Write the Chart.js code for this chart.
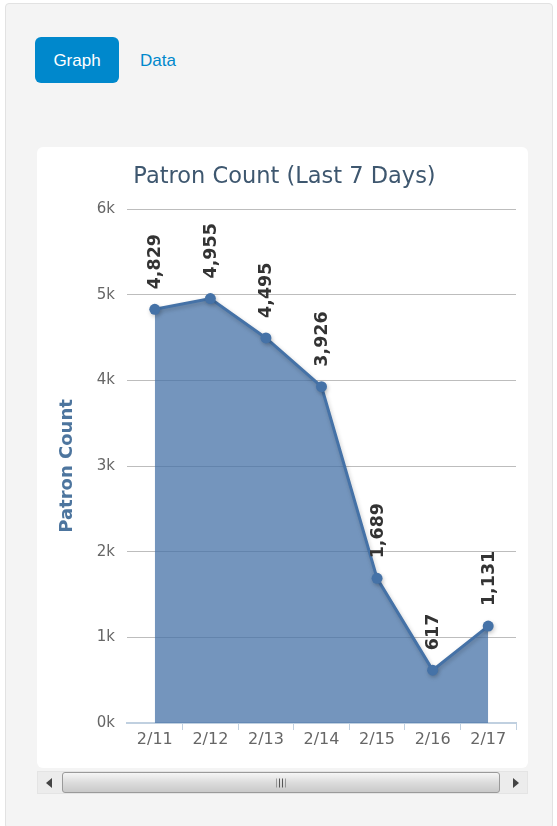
<!DOCTYPE html>
<html>
<head>
<meta charset="utf-8">
<script src="https://cdn.jsdelivr.net/npm/chart.js@4/dist/chart.umd.min.js"></script>
<style>
  html, body { margin: 0; padding: 0; background: #ffffff; }
  body { width: 557px; height: 826px; position: relative; overflow: hidden; font-family: "Liberation Sans", Arial, sans-serif; }
  #panel { position: absolute; left: 5px; top: 3px; width: 546px; height: 824px; background: #f4f4f4; border: 1px solid #e2e2e2; border-radius: 4px; }
  #btnGraph { position: absolute; left: 35px; top: 37px; width: 84px; height: 46px; background: #0088cc; border-radius: 6px; color: #fff; font-size: 17px; line-height: 48px; text-align: center; }
  #lnkData { position: absolute; left: 140px; top: 37px; height: 46px; line-height: 48px; color: #0088cc; font-size: 17px; }
  #card { position: absolute; left: 37px; top: 147px; width: 491px; height: 621px; background: #fff; border-radius: 6px; }
  #card canvas { position: absolute; left: 0; top: 0; }
  #scroll { position: absolute; left: 37px; top: 771px; width: 491px; height: 23px; background: #ececec; border: 1px solid #e4e4e4; box-sizing: border-box; }
  #thumb { position: absolute; left: 24px; top: 0px; width: 438px; height: 21px; box-sizing: border-box; border: 1px solid #9a9a9a; border-radius: 3px; background: linear-gradient(#f6f6f6, #dcdcdc 50%, #c9c9c9); }
  #grip { position: absolute; left: 50%; top: 50%; transform: translate(-50%, -50%); width: 9px; height: 9px; background: repeating-linear-gradient(90deg, #555 0 1px, transparent 1px 3px); }
  .arrow { position: absolute; top: 6px; width: 0; height: 0; border-top: 5px solid transparent; border-bottom: 5px solid transparent; }
  #arrL { left: 8px; border-right: 6px solid #444; }
  #arrR { right: 8px; border-left: 6px solid #444; }
</style>
</head>
<body>
<div id="panel"></div>
<div id="btnGraph">Graph</div>
<div id="lnkData">Data</div>
<div id="card"><canvas id="chart" width="491" height="621"></canvas></div>
<div id="scroll">
  <div class="arrow" id="arrL"></div>
  <div id="thumb"><div id="grip"></div></div>
  <div class="arrow" id="arrR"></div>
</div>
<script>
const chartTitle = "Patron Count (Last 7 Days)";
const yAxisTitle = "Patron Count";
const categories = ["2/11", "2/12", "2/13", "2/14", "2/15", "2/16", "2/17"];
const patronCounts = [4829, 4955, 4495, 3926, 1689, 617, 1131];
const yTickValues = [0, 1000, 2000, 3000, 4000, 5000, 6000];

const FONT = "'DejaVu Sans', Verdana, sans-serif";

const titleShift = {
  id: 'titleShift',
  afterLayout(chart) {
    if (chart.titleBlock) { chart.titleBlock.left += 16; }
  }
};

const lineShadow = {
  id: 'lineShadow',
  beforeDatasetDraw(chart) {
    const ctx = chart.ctx;
    ctx.save();
    ctx.shadowColor = 'rgba(0,0,0,0.22)';
    ctx.shadowBlur = 4;
    ctx.shadowOffsetX = 1;
    ctx.shadowOffsetY = 2;
  },
  afterDatasetDraw(chart) {
    chart.ctx.restore();
  }
};

const dataLabels = {
  id: 'dataLabels',
  afterDatasetsDraw(chart) {
    const ctx = chart.ctx;
    const meta = chart.getDatasetMeta(0);
    ctx.save();
    ctx.font = "bold 17.5px " + FONT;
    ctx.fillStyle = '#333333';
    ctx.textAlign = 'left';
    ctx.textBaseline = 'middle';
    meta.data.forEach((pt, i) => {
      const v = chart.data.datasets[0].data[i];
      ctx.save();
      ctx.translate(pt.x + 1, pt.y - 20);
      ctx.rotate(-Math.PI / 2);
      ctx.fillText(v.toLocaleString('en-US'), 0, 0);
      ctx.restore();
    });
    ctx.restore();
  }
};

new Chart(document.getElementById('chart'), {
  type: 'line',
  data: {
    labels: categories,
    datasets: [{
      data: patronCounts,
      borderColor: '#4572A7',
      backgroundColor: 'rgba(69,114,167,0.75)',
      borderWidth: 3,
      fill: 'origin',
      tension: 0,
      pointRadius: 5.5,
      pointHoverRadius: 5.5,
      pointBackgroundColor: '#4572A7',
      pointBorderColor: '#4572A7',
      pointBorderWidth: 0
    }]
  },
  options: {
    responsive: false,
    animation: false,
    devicePixelRatio: 1,
    layout: { padding: { left: 0, right: 12, top: 0, bottom: 0 } },
    plugins: {
      legend: { display: false },
      tooltip: { enabled: false },
      title: {
        display: true,
        text: chartTitle,
        color: '#3E576F',
        font: { family: FONT, size: 22.5, weight: 'normal', lineHeight: 1.2 },
        padding: { top: 17, bottom: 18 }
      }
    },
    scales: {
      x: {
        type: 'category',
        offset: true,
        grid: {
          offset: true,
          drawOnChartArea: false,
          drawTicks: true,
          tickLength: 7,
          tickColor: (c) => c.index === 0 ? 'rgba(0,0,0,0)' : '#C0D0E0',
          tickWidth: 1
        },
        border: { display: true, color: '#C0D0E0', width: 2 },
        ticks: {
          color: '#666666',
          font: { family: FONT, size: 16 },
          padding: 0,
          maxRotation: 0,
          autoSkip: false
        },
        afterFit(scale) { scale.height = 45; }
      },
      y: {
        min: 0,
        max: 6000,
        afterBuildTicks(scale) { scale.ticks = yTickValues.map(v => ({ value: v })); },
        grid: {
          color: (c) => c.tick && c.tick.value === 0 ? 'rgba(0,0,0,0)' : '#BDBDBD',
          lineWidth: 1,
          drawTicks: false
        },
        border: { display: false },
        ticks: {
          color: '#666666',
          font: { family: FONT, size: 15 },
          padding: 12,
          callback: (v) => (v / 1000) + 'k'
        },
        title: {
          display: true,
          text: yAxisTitle,
          color: '#4D759E',
          font: { family: FONT, size: 18, weight: 'bold', lineHeight: 1.2 },
          padding: { top: 20, bottom: 0 }
        },
        afterFit(scale) { scale.width = 90; }
      }
    }
  },
  plugins: [titleShift, lineShadow, dataLabels]
});
</script>
</body>
</html>
